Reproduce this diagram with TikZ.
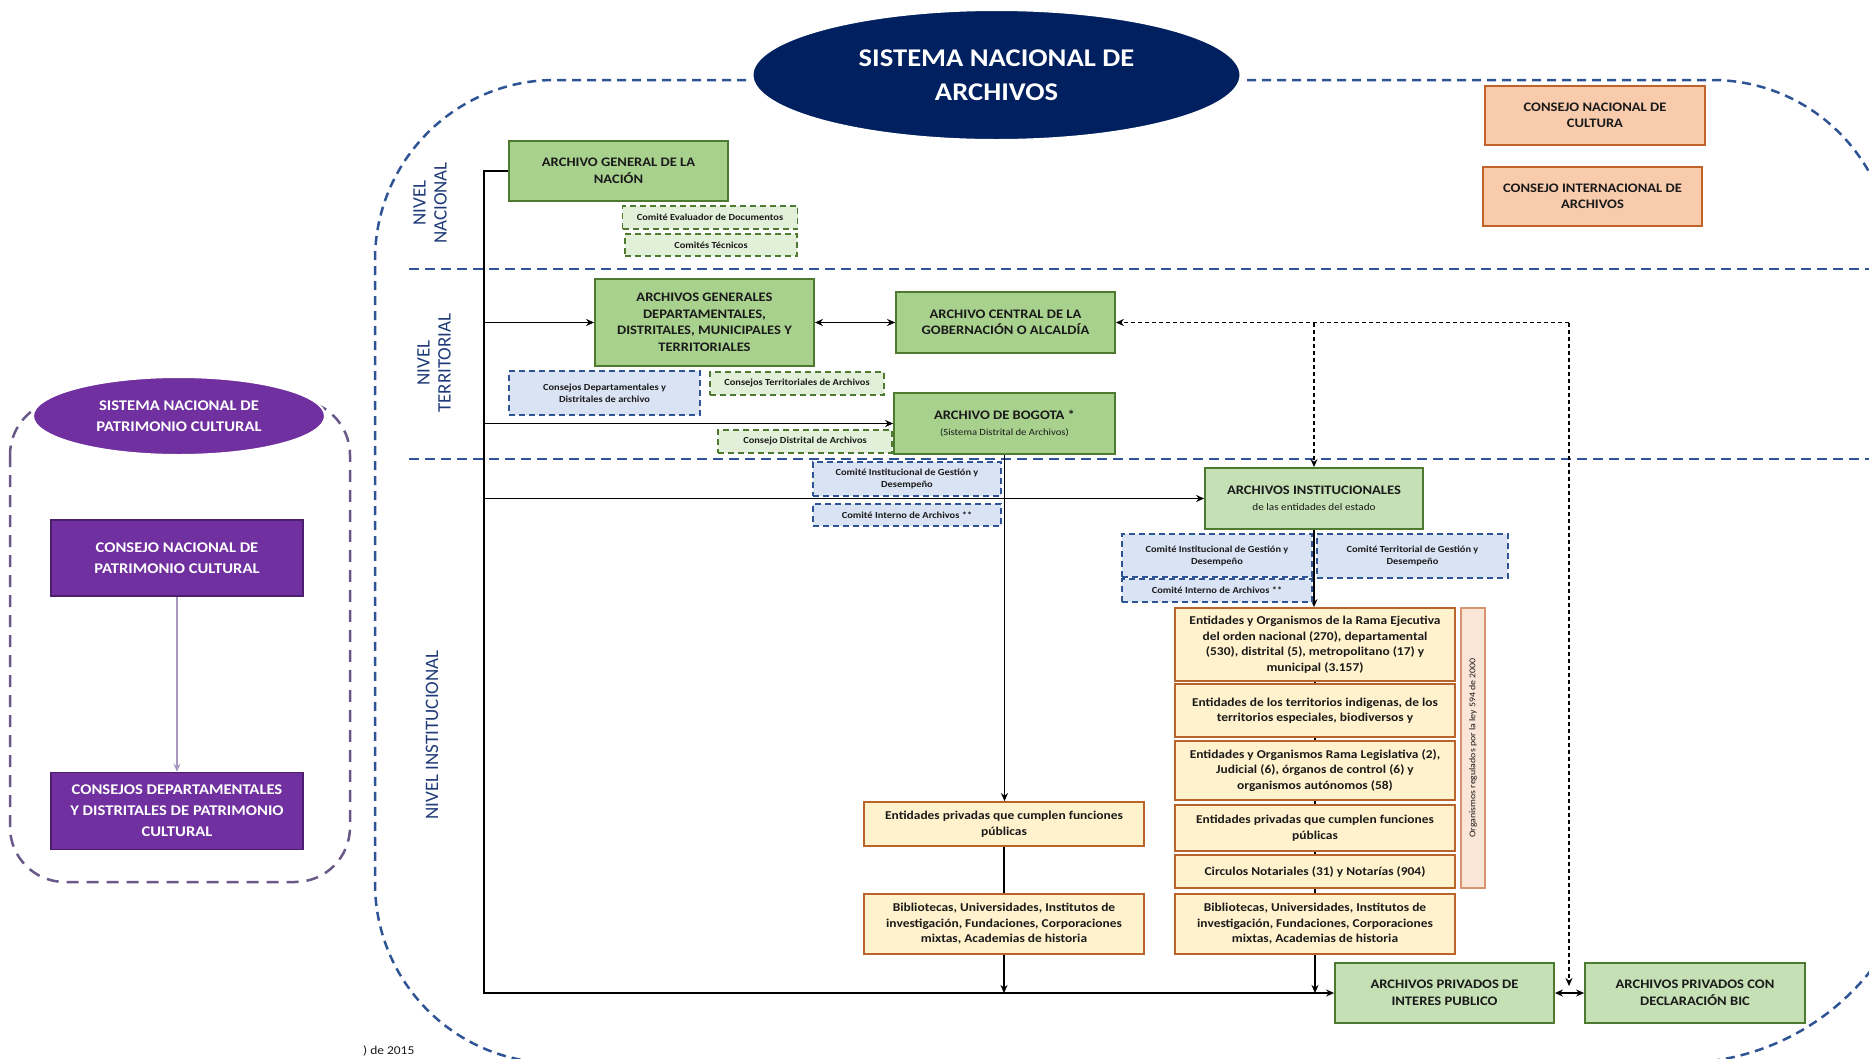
\documentclass[tikz,border=0pt]{standalone}
\usepackage{fontspec}
\setmainfont{Carlito}[FakeStretch=1.12]
\newfontfamily\lvlfont{Carlito}
\usetikzlibrary{arrows.meta,shapes.geometric}
\definecolor{navy}{HTML}{002060}
\definecolor{gfill}{HTML}{A9D18E}
\definecolor{gfillL}{HTML}{C5E0B4}
\definecolor{gline}{HTML}{4E7A2F}
\definecolor{dgfill}{HTML}{E2F0D9}
\definecolor{dbfill}{HTML}{DAE3F3}
\definecolor{dbline}{HTML}{2F5496}
\definecolor{yfill}{HTML}{FFF2CC}
\definecolor{yline}{HTML}{B8642A}
\definecolor{ofill}{HTML}{F8CBAD}
\definecolor{oline}{HTML}{C0622A}
\definecolor{pinkfill}{HTML}{FBE5D6}
\definecolor{pinkline}{HTML}{D49570}
\definecolor{purp}{HTML}{7030A0}
\definecolor{purpdark}{HTML}{4B1F6E}
\definecolor{purpline}{HTML}{6A5888}
\definecolor{purpwire}{HTML}{A898C0}
\definecolor{lvlblue}{HTML}{1F3A78}
\definecolor{contblue}{HTML}{2F5496}
\definecolor{txt}{HTML}{1A1A1A}
\pgfdeclarelayer{bg}
\pgfsetlayers{bg,main}
\tikzset{
  bx/.style={inner sep=0pt, align=center, text=txt},
  gbox/.style={bx, draw=gline, fill=gfill, line width=1.8pt, font=\bfseries\fontsize{13}{16.5}\selectfont},
  lgbox/.style={gbox, fill=gfillL},
  dgbox/.style={bx, draw=gline, fill=dgfill, line width=1.3pt, dash pattern=on 6pt off 4pt, font=\bfseries\fontsize{9.3}{12}\selectfont},
  dbbox/.style={bx, draw=dbline, fill=dbfill, line width=1.3pt, dash pattern=on 6pt off 4pt, font=\bfseries\fontsize{9.3}{12}\selectfont},
  ybox/.style={bx, draw=yline, fill=yfill, line width=1.8pt, font=\bfseries\fontsize{12}{15.5}\selectfont},
  obox/.style={bx, draw=oline, fill=ofill, line width=1.8pt, font=\bfseries\fontsize{13}{16.5}\selectfont},
  pinkbox/.style={bx, draw=pinkline, fill=pinkfill, line width=1.6pt, font=\fontsize{8.8}{10}\selectfont},
  purpbox/.style={bx, draw=purpdark, fill=purp, line width=1.5pt, text=white, font=\bfseries\fontsize{14.8}{21}\selectfont},
  wire/.style={draw=black, line width=1.6pt},
  dwire/.style={wire, dash pattern=on 4pt off 3pt},
  pwire/.style={draw=purpwire, line width=1.5pt},
  arr/.style={-{Stealth[length=8pt,width=7pt]}},
  arrboth/.style={{Stealth[length=8pt,width=7pt]}-{Stealth[length=8pt,width=7pt]}},
  levelsep/.style={draw=contblue, line width=2pt, dash pattern=on 10pt off 6pt},
  contline/.style={draw=contblue, line width=2.5pt, dash pattern=on 9pt off 6pt},
  lvl/.style={text=lvlblue, rotate=90, align=center, inner sep=0pt, font=\lvlfont\fontsize{19}{21}\selectfont},
}
\begin{document}
\begin{tikzpicture}[x=1pt,y=-1pt]
\useasboundingbox (0,0) rectangle (1869,1058);

% ---------- main title ----------
\node[ellipse, fill=navy, draw=white, line width=3pt, minimum width=489pt, minimum height=131pt, inner sep=0pt, text=white, align=center, font=\bfseries\fontsize{25.5}{34.5}\selectfont] (sna) at (996.5,75) {SISTEMA NACIONAL DE\\ARCHIVOS};

% ---------- external councils ----------
\node[obox, minimum width=220pt, minimum height=59pt] (cnc) at (1595,115.5) {CONSEJO NACIONAL DE\\CULTURA};
\node[obox, minimum width=219pt, minimum height=59pt] (cia) at (1592.5,196.5) {CONSEJO INTERNACIONAL DE\\ARCHIVOS};

% ---------- nivel nacional ----------
\node[gbox, minimum width=219pt, minimum height=60pt] (agn) at (618.5,171) {ARCHIVO GENERAL DE LA\\NACIÓN};
\node[dgbox, minimum width=175pt, minimum height=23pt] (ced) at (710,217.5) {Comité Evaluador de Documentos};
\node[dgbox, minimum width=172pt, minimum height=22pt] (cte) at (711,245) {Comités Técnicos};

% ---------- nivel territorial ----------
\node[gbox, minimum width=219pt, minimum height=87pt] (agd) at (704.5,322.5) {ARCHIVOS GENERALES\\DEPARTAMENTALES,\\DISTRITALES, MUNICIPALES Y\\TERRITORIALES};
\node[gbox, minimum width=219pt, minimum height=61pt] (acg) at (1005.5,322.5) {ARCHIVO CENTRAL DE LA\\GOBERNACIÓN O ALCALDÍA};
\node[dbbox, minimum width=191pt, minimum height=44pt] (cdd) at (604.5,393) {Consejos Departamentales y\\Distritales de archivo};
\node[dgbox, minimum width=174pt, minimum height=23pt] (cta) at (797,383.5) {Consejos Territoriales de Archivos};
\node[gbox, minimum width=221pt, minimum height=61pt] (bog) at (1004.5,423.5) {ARCHIVO DE BOGOTA *\\{\mdseries\fontsize{9.5}{12}\selectfont (Sistema Distrital de Archivos)}};
\node[dgbox, minimum width=174pt, minimum height=23pt] (cda) at (805,441.5) {Consejo Distrital de Archivos};

% ---------- nivel institucional ----------
\node[dbbox, minimum width=188pt, minimum height=34pt] (cig1) at (907,479) {Comité Institucional de Gestión y\\Desempeño};
\node[dbbox, minimum width=188pt, minimum height=22pt] (cin1) at (907,515) {Comité Interno de Archivos **};
\node[lgbox, minimum width=218pt, minimum height=61pt] (ain) at (1314,498.5) {ARCHIVOS INSTITUCIONALES\\{\mdseries\fontsize{10}{12}\selectfont de las entidades del estado}};
\node[dbbox, minimum width=190pt, minimum height=43pt] (cig2) at (1217,555.5) {Comité Institucional de Gestión y\\Desempeño};
\node[dbbox, minimum width=191pt, minimum height=44pt] (ctg) at (1412.5,556) {Comité Territorial de Gestión y\\Desempeño};
\node[dbbox, minimum width=190pt, minimum height=23pt] (cin2) at (1217,590.5) {Comité Interno de Archivos **};

\node[ybox, minimum width=280pt, minimum height=73pt] (r1) at (1315,644.5) {Entidades y Organismos de la Rama Ejecutiva\\del orden nacional (270), departamental\\(530), distrital (5), metropolitano (17) y\\municipal (3.157)};
\node[ybox, minimum width=280pt, minimum height=53pt] (r2) at (1315,710.5) {Entidades de los territorios indigenas, de los\\territorios especiales, biodiversos y};
\node[ybox, minimum width=280pt, minimum height=59pt] (r3) at (1315,770.5) {Entidades y Organismos Rama Legislativa (2),\\Judicial (6), órganos de control (6) y\\organismos autónomos (58)};
\node[ybox, minimum width=280pt, minimum height=46pt] (r4) at (1315,828) {Entidades privadas que cumplen funciones\\públicas};
\node[ybox, minimum width=280pt, minimum height=33pt] (r5) at (1315,871.5) {Circulos Notariales (31) y Notarías (904)};
\node[ybox, minimum width=280pt, minimum height=60pt] (r6) at (1315,924) {Bibliotecas, Universidades, Institutos de\\investigación, Fundaciones, Corporaciones\\mixtas, Academias de historia};
\node[pinkbox, rotate=90, minimum width=280pt, minimum height=24pt] (org) at (1473,748) {Organismos regulados por la ley 594 de 2000};

\node[ybox, minimum width=280pt, minimum height=44pt] (ep1) at (1004,824) {Entidades privadas que cumplen funciones\\públicas};
\node[ybox, minimum width=280pt, minimum height=60pt] (bib1) at (1004,924) {Bibliotecas, Universidades, Institutos de\\investigación, Fundaciones, Corporaciones\\mixtas, Academias de historia};

\node[lgbox, minimum width=219pt, minimum height=60pt] (pip) at (1444.5,993) {ARCHIVOS PRIVADOS DE\\INTERES PUBLICO};
\node[lgbox, minimum width=220pt, minimum height=60pt] (bic) at (1695,993) {ARCHIVOS PRIVADOS CON\\DECLARACIÓN BIC};

% ---------- level labels ----------
\node[lvl] (lvn) at (430,203) {NIVEL\\NACIONAL};
\node[lvl] (lvt) at (434,363) {NIVEL\\TERRITORIAL};
\node[lvl] (lvi) at (432,735) {NIVEL INSTITUCIONAL};

% ---------- patrimonio cultural ----------
\node[ellipse, fill=purp, draw=white, line width=2pt, minimum width=292pt, minimum height=78pt, inner sep=0pt, text=white, align=center, font=\bfseries\fontsize{14.8}{21}\selectfont] (spc) at (179,416) {SISTEMA NACIONAL DE\\PATRIMONIO CULTURAL};
\node[purpbox, minimum width=252pt, minimum height=76pt] (cnpc) at (177,558) {CONSEJO NACIONAL DE\\PATRIMONIO CULTURAL};
\node[purpbox, minimum width=252pt, minimum height=77pt] (cdpc) at (177,811) {CONSEJOS DEPARTAMENTALES\\Y DISTRITALES DE PATRIMONIO\\CULTURAL};

\node[anchor=base west, inner sep=0pt, text=txt, font=\fontsize{12}{14}\selectfont] (fn) at (363,1054) {) de 2015};

% ---------- background layer: frames and connectors ----------
\begin{pgfonlayer}{bg}
\fill[white] (0,0) rectangle (1869,1058);
\draw[contline] (375,560) -- (375,260) arc[start angle=180,end angle=270,radius=180] -- (1712,80) arc[start angle=270,end angle=360,radius=180] -- (1923,820) arc[start angle=0,end angle=90,radius=243] -- (555,1063) arc[start angle=90,end angle=180,radius=180] -- cycle;
\draw[levelsep] (409,269) -- (1869,269);
\draw[levelsep] (409,459) -- (1869,459);
\draw[draw=purpline, line width=2.5pt, dash pattern=on 12pt off 8pt, rounded corners=55pt] (10,400) rectangle (350,882);

\coordinate (tk) at (484,171);
\draw[wire,arr] (agn.west) -| (tk |- pip.west) -- (pip.west);
\draw[wire,arr] (tk |- agd.west) -- (agd.west);
\draw[wire,arr] (tk |- bog.west) -- (bog.west);
\draw[wire,arr] (tk |- ain.west) -- (ain.west);
\draw[wire,arrboth] (agd.east) -- (acg.west);
\draw[wire,arrboth] (pip.east) -- (bic.west);

\coordinate (dk) at (1569,322.5);
\coordinate (dke) at (1569,986);
\draw[dwire,arr] (dk) -- (acg.east);
\draw[dwire,arr] (dk) -- (dke);
\draw[dwire,arr] (ain.north |- acg.east) -- (ain.north);

\draw[wire,arr] (bog.south) -- (bog.south |- ep1.north);
\draw[wire] (ep1.south) -- (bib1.north);
\draw[wire,arr] (bib1.south) -- (bib1.south |- pip.west);
\draw[wire,arr] (ain.south) -- (ain.south |- r1.north);
\draw[wire] (r1.south) -- (r6.north);
\draw[wire,arr] (r6.south) -- (r6.south |- pip.west);

\draw[pwire,arr] (cnpc.south) -- (cdpc.north);
\end{pgfonlayer}
\end{tikzpicture}
\end{document}
